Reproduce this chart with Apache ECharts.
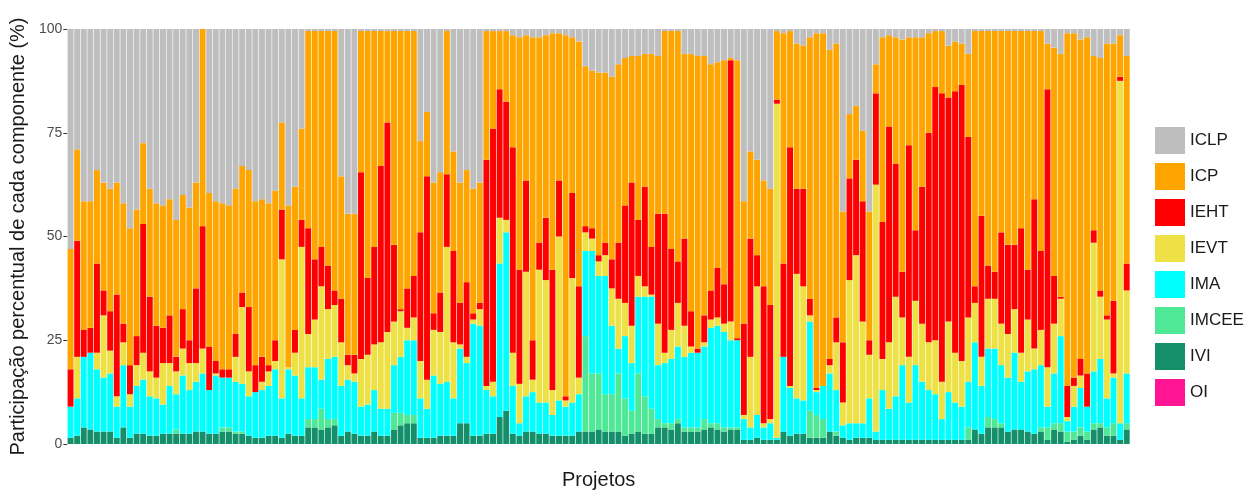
<!DOCTYPE html>
<html>
<head>
<meta charset="utf-8">
<script src="https://cdn.jsdelivr.net/npm/echarts@6/dist/echarts.min.js"></script>
<style>
html,body{margin:0;padding:0;background:#fff;}
#chart{width:1258px;height:495px;}
</style>
</head>
<body>
<div id="chart"></div>
<script>
var FONT = "'Liberation Sans', Arial, sans-serif";

// componentes, de cima para baixo (ordem da legenda)
var components = ["ICLP", "ICP", "IEHT", "IEVT", "IMA", "IMCEE", "IVI", "OI"];
var colors = {
	ICLP: "#bebebe", ICP: "#ffa500", IEHT: "#ff0000", IEVT: "#eee146",
	IMA: "#00ffff", IMCEE: "#4ee896", IVI: "#148f69", OI: "#ff1493"
};
var yTicks = [0, 25, 50, 75, 100];

// participação (%) de cada componente por projeto
var IVI = [1.5,2,4,3.5,3,3,3,1.5,4,1.5, 2.5,2.5,2,2,2.5,2.5,2.5,2.5,2.5,3,
	3,2.5,2.5,3,3,2.5,2.5,2,1.5,1.5, 2,2,1.5,2.5,2,2,4,4,3.5,4,
	4.5,2,3,2.5,2,2,3,2,2,3.5, 4.5,5,5,1.5,1.5,1.5,2,2,2,5,
	5,2,2,2.5,2.5,6.5,8,2.5,2,3, 3,2.5,2.5,2,2,2,2,3,3,3,
	3.5,3,3,3,2,2.5,3,2.5,2.5,4, 4,3.5,5,3,3,3,3.5,4,3.5,3,
	3.5,3.5,1,1,1.5,1,1,1,3,2, 2.5,2.5,1.5,1.5,1.5,3,2,1.5,1,1.5,
	1.5,1.5,1,1,1,1,1,1,1,1, 1,1,1,1,1,1,1,3.5,2.5,4,
	4,4,3,3.5,3.5,3,2.5,3,1,3.5, 3,0.5,1,2,1,3.5,4,2,2,1,
	3.5];
var IMCEE = [0,0,0,0,0,0,0,0,0,0, 0,0,0,0,0,0,1,0,0,0,
	0,0,0,1,1,0.5,0.5,0,0,0, 0,0,0,0,0,0,2,2,5,2,
	1.5,0,0,0,0,0,0,0,0,4, 3,2,2,0,0,0,0,0,0,0,
	0,0,0,0,0,0,0,0,0,0, 0,0,0,0,0,0,0,0,23,14,
	13.5,9,9,14,9,5.5,14,9,6,2, 1,1.5,1,1,1,1,2.5,1,1.5,1,
	0.5,0.5,0,0,0,0,0,0,0,0, 0,0,6.5,5.5,4.5,0,1,0,0,0,
	0,0,0,0,0,0,0,0,0,0, 0,0,0,0,0,0,3,0,0,2.5,
	2,1,0,0,0,0,0,1,3,1.5, 2,2.5,2,2,2,1.5,1,2,3,0,
	1.5];
var IMA = [7.5,9,17,18.5,15,13,14,7.5,15,7.5, 11.5,13,9.5,9,7,11.5,8.5,14,10.5,12,
	14,10.5,14,12,12,12,11.5,9.5,11,11.5, 12,16,9.5,15.5,14.5,9,12.5,12.5,7,14.5,
	15,12,12.5,12.5,7,7.5,10,6.5,6.5,11.5, 13.5,18,18,9.5,7,15,12.5,13,9,18,
	14.5,27,26.5,10.5,9,37,43,11.5,3,8.5, 9.5,7.5,7.5,5,8.5,7,8,9,20.5,29.5,
	23.5,28.5,16.5,6,15,11.5,18.5,24,27,13, 14.5,15.5,17.5,17,18,18,17.5,23,23.5,23,
	21,21,5,3,5.5,3,4,0.5,18,11.5, 8.5,8,21.5,5.5,8,14,10,3,4,3.5,
	3.5,9.5,2,12,7.5,10.5,18,9,18,14, 12,11,5,11.5,9,8,11,21,11.5,16.5,
	17,14,13,18.5,11.5,14.5,15.5,15,5,12, 21,2.5,6,9.5,6,12.5,15.5,7,11,4,
	12];
var IEVT = [0,10,0,0,4,15,5.5,2.5,5.5,3, 5,6.5,6,5,10,5.5,5.5,6.5,6.5,4.5,
	6,0,0.5,0,0,6,18.5,6,0,2, 3.5,2,33.5,0.5,5.5,36.5,8,11.5,22.5,12,
	12.5,10.5,3.5,2,11.5,12,11,16,18.5,10.5, 11,3,5.5,9,7,11,12.5,32.5,13.5,1,
	1.5,1,4,1,3.5,11,3,8,9.5,30, 3,32,29.5,6,39.5,1.5,30,4,4.5,3,
	3.5,5,9,12,8,9,5,2.5,0.5,10, 2.5,7,10.5,7.5,1.5,0,1,2,2,2,
	4.5,0,1,17,31,1,1,80.5,0,0.5, 30,27.5,1.5,0.5,0,2,11.5,5.5,34.5,40.5,
	24.5,10.5,59.5,7.5,16,24,11.5,11,15.5,14, 11.5,13,9,17,12,11,15.5,9.5,7,12,
	12,10,10.5,10.5,7,12.5,5,8.5,9.5,12, 9,1,5,3,0,31,15,19,1,82.5,
	20];
var IEHT = [9,28,6.5,6,21.5,6,9.5,24.5,4.5,7, 7,31,18,12.5,8.5,11.5,3.5,9.5,5.5,18,
	29.5,10.5,3,2,2,5.5,3.5,15.5,6.5,6, 1.5,5,12,0,5.5,6.5,25.5,14.5,9.5,10.5,
	3.5,10.5,2.5,4.5,45,18.5,23.5,42.5,50.5,18.5, 0.5,9.5,10,31,49,4,9.5,17.5,22,10,
	18,1.5,1.5,54.5,61,31,28.5,49.5,27.5,22, 9.5,6.5,15,29,13.5,1,20.5,22,1.5,2.5,
	1.5,3,7,13.5,23.5,34.5,13.5,24,11.5,26.5, 33.5,19.5,10,21,8.5,1,6.5,7,12,9.5,
	63,0.5,22,28.5,7.5,33,27.5,1,22.5,57.5, 20.5,23.5,4,0.5,0,1.5,6,14.5,24.5,23,
	29,3.5,22,33,52,32,11,51,17,33, 50.5,61,69.5,54,63,66.5,43.5,4,34,8,
	6.5,22,21.5,15.5,30,12,36,19,67,11.5, 0.5,7.5,2,4,8,3,1.5,1,17.5,1,
	6.5];
var ICP = [29,22,31,30.5,22.5,26,29.5,27,29,33, 30.5,19.5,26,29.5,29.5,28,33,27.5,32,25.5,
	47.5,37,38.5,40,39.5,35,30.5,33,39.5,38, 39,36,21,39,34.5,22,47.5,55,52,56.5,
	62.5,29.5,34,34,34,59.5,52,32.5,22,51.5, 67,62,59,22,15.5,31.5,29,34.5,24,29,
	27,30,29,31,23.5,14,17,27,56,35, 73,49.5,44,57,35.5,87,37.5,59,38.5,38,
	44,41,44,43,35.5,30.5,39.5,32,46.5,38, 44,52.5,55.5,44.5,62,70.5,62.5,54.5,49.5,54,
	0.5,67,29.5,21,23,25.5,28,16.5,55.5,28, 35,34.5,63,85.5,85,74.5,66,31.5,15.5,13,
	17,31,7,44.5,22,30.5,56,26,46.5,36, 24,13.5,15,12.5,12,10,20,61.5,44.5,56.5,
	58,48.5,51.5,51.5,47.5,57.5,40.5,53,11,55, 58.5,85,83,77,81,42,56,65.5,62,10,
	50];
var ICLP = [53,29,41.5,41.5,34,37,38.5,37,42,48, 43.5,27.5,38.5,42,42.5,41,46,40,43,37,
	0,39.5,41.5,42,42.5,38.5,33,34,41.5,41, 42,39,22.5,42.5,38,24,0.5,0.5,0.5,0.5,
	0.5,35.5,44.5,44.5,0.5,0.5,0.5,0.5,0.5,0.5, 0.5,0.5,0.5,27,20,37,34.5,0.5,29.5,37,
	34,38.5,37,0.5,0.5,0.5,0.5,1.5,2,1.5, 2,2,1.5,1,1,1.5,2,3,9,10,
	10.5,10.5,11.5,8.5,7,6.5,6.5,6,6,6.5, 0.5,0.5,0.5,6,6,6.5,6.5,8.5,8,7.5,
	7,7.5,41.5,29.5,31.5,36.5,38.5,0.5,1,0.5, 3.5,4,2,1,1,5,3.5,44,20.5,18.5,
	24.5,44,8.5,2,1.5,2,2.5,2,2,2, 1,0.5,0.5,4,3,3.5,6,0.5,0.5,0.5,
	0.5,0.5,0.5,0.5,0.5,0.5,0.5,0.5,3.5,4.5, 6,1,1,2.5,2,6.5,7,3.5,3.5,1.5,
	6.5];
var OI = [];
for (var k = 0; k < IVI.length; k++) OI.push(0);

var projetos = [];
for (var i = 0; i < IVI.length; i++) projetos.push("P" + (i + 1));

var seriesData = {
	ICLP: ICLP, ICP: ICP, IEHT: IEHT, IEVT: IEVT,
	IMA: IMA, IMCEE: IMCEE, IVI: IVI, OI: OI
};

var chart = echarts.init(document.getElementById("chart"), null, {renderer: "canvas"});

// empilhamento de baixo para cima: OI, IVI, ..., ICLP
var series = components.slice().reverse().map(function(name) {
	return {
		name: name,
		type: "bar",
		stack: "total",
		barCategoryGap: "10%",
		data: seriesData[name],
		itemStyle: {color: colors[name]},
		emphasis: {disabled: true}
	};
});

var option = {
	animation: false,
	backgroundColor: "#ffffff",
	textStyle: {fontFamily: FONT},
	grid: {left: 66, right: 128, top: 29, bottom: 50, containLabel: false},
	legend: {
		data: components,
		orient: "vertical",
		left: 1150,
		top: 122,
		itemWidth: 30,
		itemHeight: 27,
		itemGap: 9,
		icon: "rect",
		selectedMode: false,
		textStyle: {fontSize: 17, color: "#1a1a1a", fontFamily: FONT}
	},
	xAxis: {
		type: "category",
		data: projetos,
		name: "Projetos",
		nameLocation: "middle",
		nameGap: 26,
		nameTextStyle: {fontSize: 20, color: "#1a1a1a", fontFamily: FONT},
		axisLine: {show: false},
		axisTick: {show: false},
		axisLabel: {show: false},
		splitLine: {show: false}
	},
	yAxis: {
		type: "value",
		min: yTicks[0],
		max: yTicks[yTicks.length - 1],
		interval: 25,
		name: "Participação percentual de cada componente (%)",
		nameLocation: "middle",
		nameGap: 36,
		nameTextStyle: {fontSize: 20, color: "#1a1a1a", fontFamily: FONT},
		axisLine: {show: false},
		axisTick: {show: true, length: 4, lineStyle: {color: "#333333"}},
		axisLabel: {fontSize: 14, color: "#4d4d4d", margin: 5, fontFamily: FONT},
		splitLine: {show: false}
	},
	series: series
};
chart.setOption(option);
</script>
</body>
</html>
